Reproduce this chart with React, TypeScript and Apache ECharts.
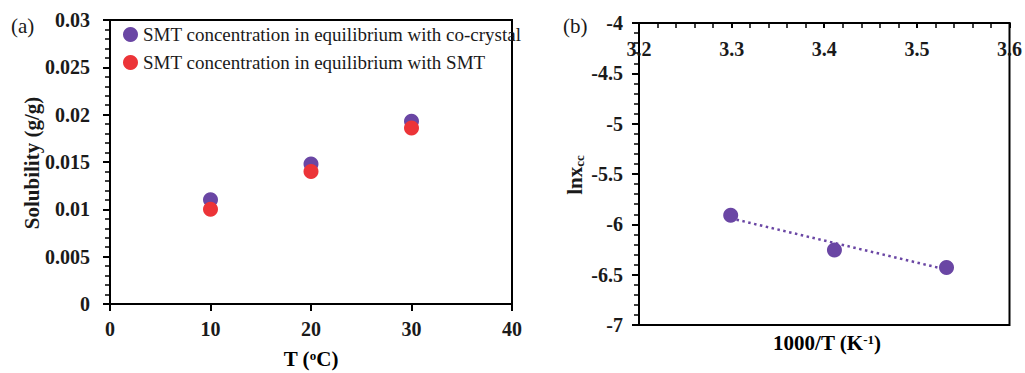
import React, { useEffect, useRef } from "react";
import * as echarts from "echarts";

const tempC = [10, 20, 30];
const coCrystalSol = [0.011, 0.0148, 0.0193];
const smtSol = [0.01, 0.014, 0.0186];
const invT = [3.299, 3.411, 3.532];
const lnXcc = [-5.91, -6.255, -6.43];
const trendX = [3.299, 3.532];
const trendY = [-5.94, -6.45];
const leftYTicks = ["0", "0.005", "0.01", "0.015", "0.02", "0.025", "0.03"];
const leftXTicks = ["0", "10", "20", "30", "40"];
const rightXTicks = ["3.2", "3.3", "3.4", "3.5", "3.6"];
const rightYTicks = ["-7", "-6.5", "-6", "-5.5", "-5", "-4.5", "-4"];

const PURPLE = "#6a46a4";
const RED = "#ec3438";
const FONT = "Liberation Serif";
const INK = "#1a1a1a";

function pick(list: string[], min: number, step: number) {
  return (v: number) => {
    const i = Math.round((v - min) / step);
    return list[i] ?? "";
  };
}

const lbl = (margin: number, fmt: (v: number) => string, inside = false) => ({
  fontFamily: FONT, fontWeight: "bold", fontSize: 20, color: INK, margin, inside, formatter: fmt,
});
const aLine = () => ({ show: true, lineStyle: { color: "#000", width: 2 } });
const aTick = (inside = false, length = 7) => ({ show: true, inside, length, lineStyle: { color: "#000", width: 2 } });
const mTick = (length = 5) => ({ show: true, splitNumber: 5, length, lineStyle: { color: "#000", width: 1.5 } });
const supRich = () => ({
  a: { fontFamily: FONT, fontWeight: "bold", fontSize: 21, color: INK },
  s: { fontFamily: FONT, fontWeight: "bold", fontSize: 13, color: INK, verticalAlign: "top", padding: [0, 0, 8, 0] },
});

function leftOption() {
  return {
    animation: false,
    backgroundColor: "#fff",
    title: { text: "(a)", left: 6, top: 10, textStyle: { fontFamily: FONT, fontWeight: "normal", fontSize: 21, color: INK } },
    grid: { left: 110, top: 20, width: 402, height: 284, show: true, borderColor: "#000", borderWidth: 2 },
    legend: {
      data: ["SMT concentration in equilibrium with co-crystal", "SMT concentration in equilibrium with SMT"],
      orient: "vertical",
      left: 118,
      top: 20,
      itemGap: 9,
      itemWidth: 15,
      itemHeight: 15,
      icon: "circle",
      textStyle: { fontFamily: FONT, fontSize: 19, color: INK },
    },
    graphic: [
      {
        type: "text", x: 32, y: 163, rotation: Math.PI / 2,
        style: { text: "Solubility (g/g)", fontFamily: FONT, fontWeight: "bold", fontSize: 21, fill: INK, align: "center", verticalAlign: "middle" },
      },
      {
        type: "text", x: 311, y: 359,
        style: { text: "{a|T (}{s|o}{a|C)}", rich: supRich(), align: "center", verticalAlign: "middle" },
      },
    ],
    xAxis: {
      type: "value", min: 0, max: 40, interval: 10,
      axisLine: aLine(),
      axisTick: aTick(),
      splitLine: { show: false },
      axisLabel: lbl(15, pick(leftXTicks, 0, 10)),
    },
    yAxis: {
      type: "value", min: 0, max: 0.03, interval: 0.005,
      axisLine: aLine(),
      axisTick: aTick(),
      minorTick: mTick(),
      splitLine: { show: false },
      axisLabel: lbl(20, pick(leftYTicks, 0, 0.005)),
    },
    series: [
      {
        name: "SMT concentration in equilibrium with co-crystal",
        type: "scatter", symbolSize: 15,
        itemStyle: { color: PURPLE, opacity: 1 },
        data: tempC.map((t, i) => [t, coCrystalSol[i]]),
      },
      {
        name: "SMT concentration in equilibrium with SMT",
        type: "scatter", symbolSize: 15,
        itemStyle: { color: RED, opacity: 1 },
        data: tempC.map((t, i) => [t, smtSol[i]]),
      },
    ],
  };
}

function rightOption() {
  return {
    animation: false,
    backgroundColor: "#fff",
    title: { text: "(b)", left: 28, top: 10, textStyle: { fontFamily: FONT, fontWeight: "normal", fontSize: 21, color: INK } },
    grid: { left: 109, top: 23, width: 373, height: 302, show: true, borderColor: "#000", borderWidth: 2 },
    graphic: [
      {
        type: "text", x: 297, y: 343,
        style: { text: "{a|1000/T (K}{s|-1}{a|)}", rich: supRich(), align: "center", verticalAlign: "middle" },
      },
      {
        type: "text", x: 45, y: 175, rotation: Math.PI / 2,
        style: {
          text: "{a|lnx}{b|cc}",
          rich: {
            a: { fontFamily: FONT, fontWeight: "bold", fontSize: 21, fill: INK },
            b: { fontFamily: FONT, fontWeight: "bold", fontSize: 13, fill: INK, verticalAlign: "bottom", padding: [8, 0, 0, 0] },
          },
          align: "center",
          verticalAlign: "middle",
        },
      },
    ],
    xAxis: {
      type: "value", min: 3.2, max: 3.6, interval: 0.1, position: "top",
      axisLine: aLine(),
      axisTick: aTick(true, 5),
      minorTick: mTick(5),
      splitLine: { show: false },
      axisLabel: lbl(16, pick(rightXTicks, 3.2, 0.1), true),
    },
    yAxis: {
      type: "value", min: -7, max: -4, interval: 0.5,
      axisLine: aLine(),
      axisTick: aTick(),
      minorTick: mTick(),
      splitLine: { show: false },
      axisLabel: lbl(16, pick(rightYTicks, -7, 0.5)),
    },
    series: [
      {
        name: "trend",
        type: "line", symbol: "none",
        lineStyle: { color: PURPLE, width: 2.5, type: [2.5, 3.5] },
        data: trendX.map((x, i) => [x, trendY[i]]),
        z: 2,
      },
      {
        name: "lnxcc",
        type: "scatter", symbolSize: 15,
        itemStyle: { color: PURPLE, opacity: 1 },
        data: invT.map((x, i) => [x, lnXcc[i]]),
        z: 3,
      },
    ],
  };
}

function Panel({ option, left, width }: { option: any; left: number; width: number }) {
  const ref = useRef<HTMLDivElement>(null);
  useEffect(() => {
    if (!ref.current) return;
    const chart = echarts.init(ref.current, undefined, { renderer: "svg" });
    chart.setOption(option);
    return () => chart.dispose();
  }, []);
  return <div ref={ref} style={{ position: "absolute", left, top: 0, width, height: 373 }} />;
}

export default function App() {
  return (
    <div style={{ position: "fixed", left: 0, top: 0, width: 1025, height: 373, background: "#fff" }}>
      <Panel option={leftOption()} left={0} width={530} />
      <Panel option={rightOption()} left={530} width={495} />
    </div>
  );
}
